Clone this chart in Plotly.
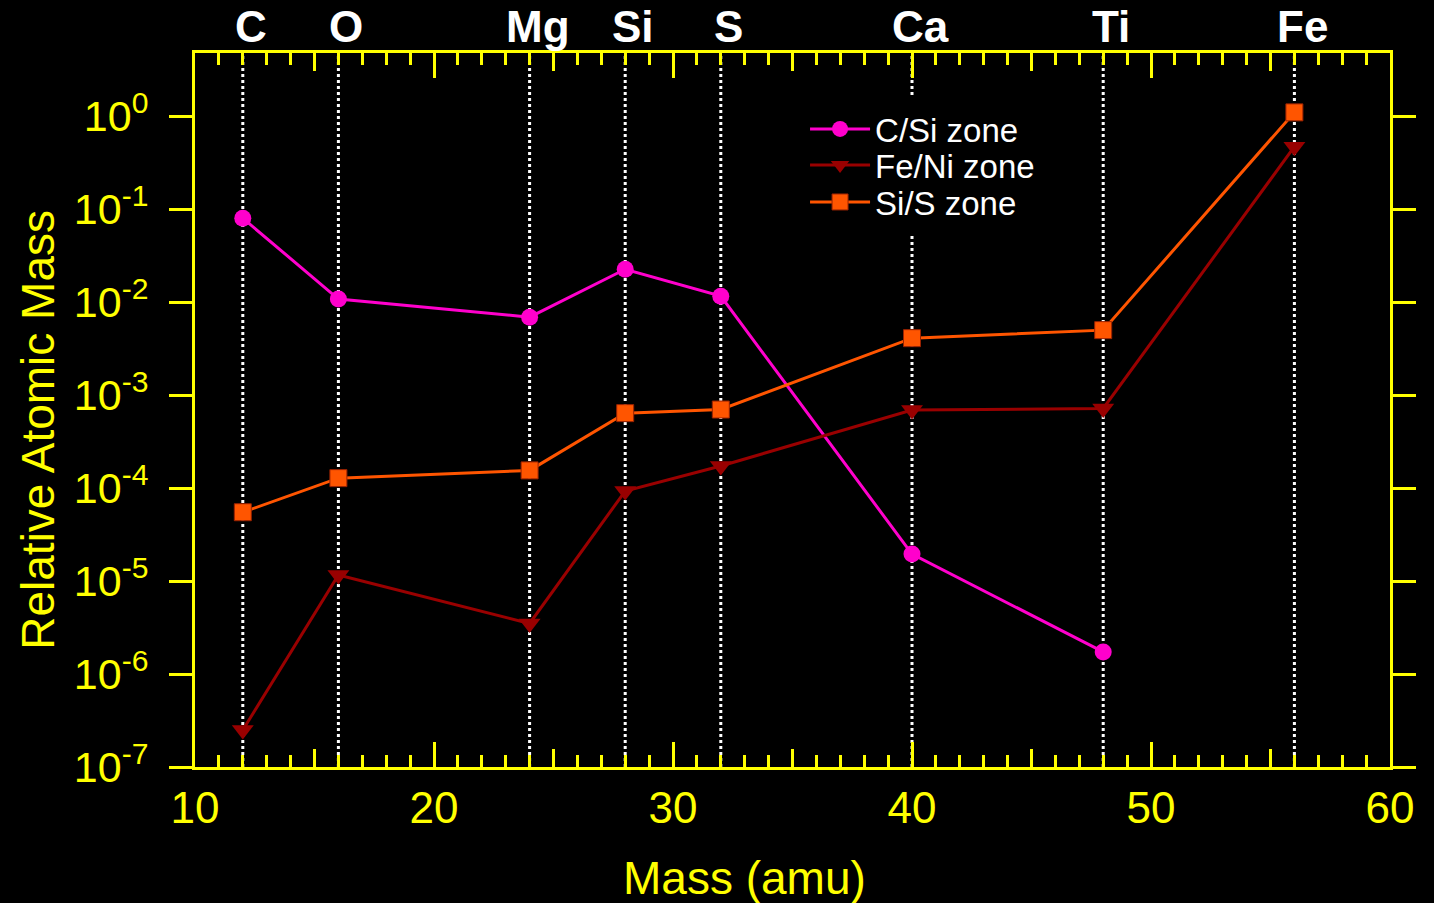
import plotly.graph_objects as go

# Element masses (amu) and their symbols
element_mass = [12, 16, 24, 28, 32, 40, 48, 56]
element_name = ["C", "O", "Mg", "Si", "S", "Ca", "Ti", "Fe"]

# Relative atomic mass per zone
csi_mass = [12, 16, 24, 28, 32, 40, 48]
csi_vals = [0.080, 0.0108, 0.0069, 0.0226, 0.0116, 1.95e-5, 1.73e-6]

feni_mass = [12, 16, 24, 28, 32, 40, 48, 56]
feni_vals = [2.5e-7, 1.16e-5, 3.5e-6, 9.3e-5, 1.73e-4, 6.9e-4, 7.2e-4, 0.47]

sis_mass = [12, 16, 24, 28, 32, 40, 48, 56]
sis_vals = [5.5e-5, 1.28e-4, 1.55e-4, 6.4e-4, 7.0e-4, 4.1e-3, 5.0e-3, 1.1]

y_exponents = [-7, -6, -5, -4, -3, -2, -1, 0]
x_ticks = [10, 20, 30, 40, 50, 60]
x_mid_ticks = [15, 25, 35, 45, 55]

YELLOW = "#FFFF00"
FONT = "Liberation Sans, Arial, sans-serif"

fig = go.Figure()

fig.add_trace(go.Scatter(
    x=csi_mass, y=csi_vals, name="C/Si zone", mode="lines+markers",
    line=dict(color="#FF00CC", width=3),
    marker=dict(symbol="circle", size=17, color="#FF00CC"),
    legend="legend",
))
fig.add_trace(go.Scatter(
    x=feni_mass, y=feni_vals, name="Fe/Ni zone", mode="lines+markers",
    line=dict(color="#990000", width=3),
    marker=dict(symbol="triangle-down", size=19, color="#990000"),
    legend="legend2",
))
fig.add_trace(go.Scatter(
    x=sis_mass, y=sis_vals, name="Si/S zone", mode="lines+markers",
    line=dict(color="#FF5500", width=3),
    marker=dict(symbol="square", size=17, color="#FF5500",
                line=dict(color="#992200", width=1)),
    legend="legend3",
))
# empty trace to carry the secondary tick axis
fig.add_trace(go.Scatter(x=[], y=[], xaxis="x2", showlegend=False,
                         hoverinfo="skip"))

# dotted marker lines at each element mass
for m in element_mass:
    fig.add_shape(type="line", xref="x", yref="paper", x0=m, x1=m,
                  y0=0, y1=1, layer="below",
                  line=dict(color="white", width=3, dash="dot"))

# solid black backing behind the legend block
fig.add_shape(type="rect", xref="paper", yref="paper",
              x0=0.506, x1=0.707, y0=0.745, y1=0.941, layer="above",
              fillcolor="black", line=dict(width=0))

# element symbols above the frame
for m, name in zip(element_mass, element_name):
    fig.add_annotation(x=m, y=1, xref="x", yref="paper", text=name,
                       showarrow=False, xanchor="center", yanchor="middle",
                       yshift=27, xshift=8,
                       font=dict(family=FONT, size=44, color="white",
                                 weight="bold"))

fig.add_annotation(text="Relative Atomic Mass", xref="paper", yref="paper",
                   x=-0.131, y=0.473, textangle=-90, showarrow=False,
                   xanchor="center", yanchor="middle",
                   font=dict(family=FONT, size=46, color=YELLOW))
fig.add_annotation(text="Mass (amu)", xref="paper", yref="paper",
                   x=0.46, y=-0.155, showarrow=False,
                   xanchor="center", yanchor="middle",
                   font=dict(family=FONT, size=46, color=YELLOW))


def legend_box(ypos):
    return dict(x=0.5105, y=ypos, xanchor="left", yanchor="middle",
                bgcolor="rgba(0,0,0,0)",
                font=dict(family=FONT, size=33, color="white"),
                itemwidth=60)


fig.update_layout(
    width=1434, height=903,
    paper_bgcolor="black", plot_bgcolor="black",
    margin=dict(l=195, r=44, t=53, b=136),
    showlegend=True,
    legend=legend_box(0.8936),
    legend2=legend_box(0.8431),
    legend3=legend_box(0.7913),
    xaxis=dict(
        range=[10, 60], tickvals=x_ticks, ticks="inside", ticklen=25,
        tickwidth=3, tickcolor=YELLOW, showline=True, linewidth=3,
        linecolor=YELLOW, mirror="allticks", showgrid=False, zeroline=False,
        tickfont=dict(family=FONT, size=44, color=YELLOW),
        minor=dict(dtick=1, ticks="inside", ticklen=12, tickwidth=3,
                   tickcolor=YELLOW, showgrid=False),
    ),
    xaxis2=dict(
        range=[10, 60], overlaying="x", side="bottom", anchor="y",
        tickvals=x_mid_ticks, ticks="inside", ticklen=18, tickwidth=3,
        tickcolor=YELLOW, showticklabels=False, showline=False,
        mirror="allticks", showgrid=False, zeroline=False,
    ),
    yaxis=dict(
        type="log", range=[-7, 0.68],
        tickvals=[10 ** e for e in y_exponents],
        ticktext=[f"10<sup>{e}</sup>" for e in y_exponents],
        ticks="outside", ticklen=23, tickwidth=3, tickcolor=YELLOW,
        showline=True, linewidth=3, linecolor=YELLOW, mirror="ticks",
        showgrid=False, zeroline=False, ticklabelstandoff=12,
        tickfont=dict(family=FONT, size=43, color=YELLOW),
    ),
)

fig.write_html("out.html")
